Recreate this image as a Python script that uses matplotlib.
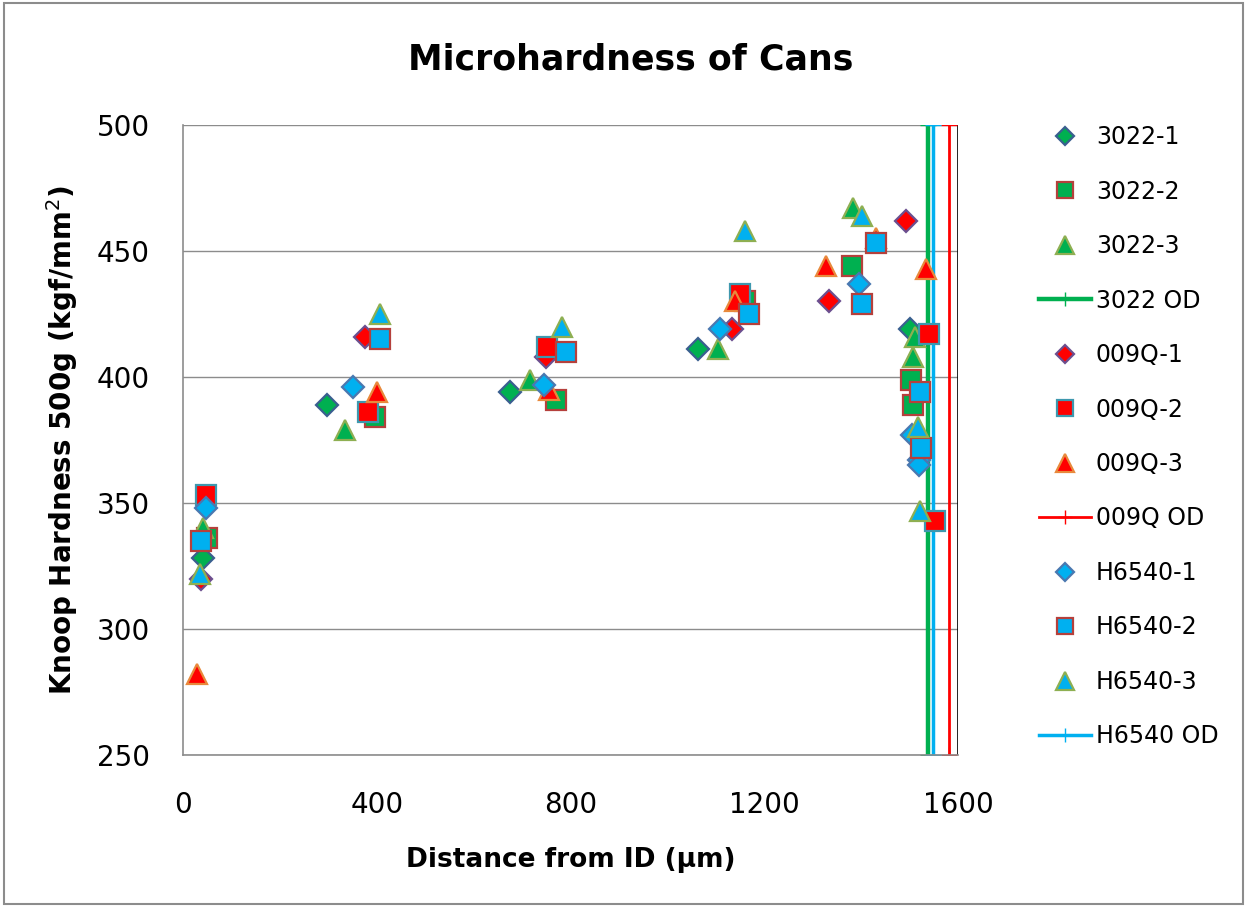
import matplotlib
matplotlib.use("Agg")
import matplotlib.pyplot as plt
from matplotlib.patches import Rectangle

plt.rcParams['font.family'] = ['DejaVu Sans']

# distance from ID (um), Knoop hardness for each indent series
x_3022_1 = [41, 297, 675, 1064, 1501]
y_3022_1 = [328, 389, 394, 411, 419]
x_3022_2 = [50, 396, 770, 1160, 1381, 1503, 1508]
y_3022_2 = [336, 384, 391, 430, 444, 399, 389]
x_3022_3 = [41, 334, 716, 1105, 1383, 1511, 1507]
y_3022_3 = [340, 379, 399, 411, 467, 416, 408]

x_009q_1 = [37, 376, 750, 1133, 1334, 1493]
y_009q_1 = [320, 416, 408, 419, 430, 462]
x_009q_2 = [47, 382, 751, 1150, 1540, 1552]
y_009q_2 = [353, 386, 412, 433, 417, 343]
x_009q_3 = [29, 400, 756, 1140, 1327, 1430, 1534]
y_009q_3 = [282, 394, 395, 430, 444, 455, 443]

x_h6540_1 = [47, 351, 745, 1109, 1396, 1505, 1520, 1520]
y_h6540_1 = [348, 396, 397, 419, 437, 377, 367, 365]
x_h6540_2 = [37, 407, 791, 1169, 1401, 1430, 1521, 1523]
y_h6540_2 = [335, 415, 410, 425, 429, 453, 394, 372]
x_h6540_3 = [35, 407, 782, 1160, 1401, 1517, 1521]
y_h6540_3 = [322, 425, 420, 458, 464, 380, 347]

# outer diameter positions, drawn as vertical lines
od_3022 = 1538
od_009q = 1581
od_h6540 = 1549
od_span = [250, 500]

GREEN = '#00B050'
RED = '#FF0000'
CYAN = '#00B0F0'

fig = plt.figure(figsize=(12.47, 9.07), dpi=100)
fig.patches.append(Rectangle((0.003, 0.003), 0.994, 0.994, transform=fig.transFigure,
                             fill=False, edgecolor='#8C8C8C', linewidth=1.5))
ax = fig.add_axes([183 / 1247, 1 - 755 / 907, 775 / 1247, 630 / 907])

def pts(x, y, marker, face, edge, label, ms):
    ax.plot(x, y, linestyle='none', marker=marker, markersize=ms, markerfacecolor=face,
            markeredgecolor=edge, markeredgewidth=1.6, label=label, zorder=3)

def od(x, color, lw, label):
    ax.plot([x, x], od_span, color=color, linewidth=lw, marker='+', markersize=12,
            markeredgewidth=1, label=label, zorder=2)

pts(x_3022_1, y_3022_1, 'D', GREEN, '#3A5F8F', '3022-1', 11)
pts(x_3022_2, y_3022_2, 's', GREEN, '#B5403C', '3022-2', 14)
pts(x_3022_3, y_3022_3, '^', GREEN, '#8EAF52', '3022-3', 15)
od(od_3022, GREEN, 3.2, '3022 OD')
pts(x_009q_1, y_009q_1, 'D', RED, '#6B4F8F', '009Q-1', 11)
pts(x_009q_2, y_009q_2, 's', RED, '#3E98AE', '009Q-2', 14)
pts(x_009q_3, y_009q_3, '^', RED, '#E8893C', '009Q-3', 15)
od(od_009q, RED, 2.0, '009Q OD')
pts(x_h6540_1, y_h6540_1, 'D', CYAN, '#4A78B0', 'H6540-1', 11)
pts(x_h6540_2, y_h6540_2, 's', CYAN, '#B5403C', 'H6540-2', 14)
pts(x_h6540_3, y_h6540_3, '^', CYAN, '#8EAF52', 'H6540-3', 15)
od(od_h6540, CYAN, 2.5, 'H6540 OD')

ax.set_xlim(0, 1600)
ax.set_ylim(250, 500)
ax.set_xticks(range(0, 1601, 400))
ax.set_yticks(range(250, 501, 50))
ax.yaxis.grid(True, color='#8C8C8C', linewidth=1.0)
ax.set_axisbelow(True)
ax.axvline(1600, color='black', linewidth=1.2, zorder=1)
for side in ['top', 'right']:
    ax.spines[side].set_visible(False)
for side in ['left', 'bottom']:
    ax.spines[side].set_color('#8C8C8C')
    ax.spines[side].set_linewidth(1.2)
ax.tick_params(axis='both', length=0, labelsize=20)
ax.tick_params(axis='y', pad=24)
ax.tick_params(axis='x', pad=26)

# chart title is centred on the whole figure, not on the axes
fig.text(631 / 1247, 1 - 60 / 907, 'Microhardness of Cans', fontsize=25,
         fontweight='bold', ha='center', va='center')
ax.set_xlabel('Distance from ID (\u00b5m)', fontsize=19, fontweight='bold', labelpad=20)
ax.set_ylabel('Knoop Hardness 500g (kgf/mm$^2$)', fontsize=20, fontweight='bold', labelpad=12)

ax.legend(loc='upper left', bbox_to_anchor=(1018 / 1247, 1 - 104 / 907),
          bbox_transform=fig.transFigure, frameon=False, fontsize=17,
          labelspacing=1.29, handlelength=2.2, handletextpad=0.2, numpoints=1,
          markerscale=0.82)

fig.savefig('out.png', dpi=100)
